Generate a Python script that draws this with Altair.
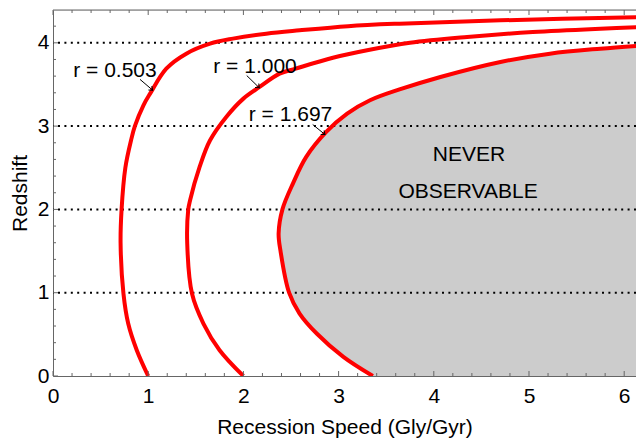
import altair as alt
import pandas as pd

FONT = "Liberation Sans"

# ---- data ----
curve_names = ["r = 0.503", "r = 1.000", "r = 1.697"]

c1_speed = [1.00, 0.88, 0.79, 0.74, 0.71, 0.72, 0.76, 0.82, 0.86, 0.95, 1.02, 1.19, 1.40, 1.65, 1.89, 2.24, 2.59, 3.10, 3.64, 4.70, 6.21]
c1_z     = [0.00, 0.31, 0.63, 0.99, 1.59, 1.99, 2.50, 2.83, 3.00, 3.25, 3.39, 3.69, 3.87, 3.99, 4.05, 4.11, 4.15, 4.20, 4.23, 4.27, 4.31]

c2_speed = [2.00, 1.75, 1.58, 1.46, 1.41, 1.42, 1.44, 1.54, 1.65, 1.82, 2.00, 2.17, 2.38, 2.55, 2.94, 3.30, 3.75, 4.35, 5.04, 5.75, 6.21]
c2_z     = [0.00, 0.31, 0.63, 0.99, 1.59, 1.99, 2.11, 2.51, 2.83, 3.11, 3.33, 3.47, 3.63, 3.69, 3.82, 3.91, 4.00, 4.07, 4.13, 4.17, 4.19]

c3_speed = [3.36, 3.05, 2.77, 2.59, 2.48, 2.39, 2.37, 2.41, 2.52, 2.66, 2.87, 3.09, 3.33, 3.64, 4.07, 4.70, 5.22, 5.75, 6.21]
c3_z     = [0.00, 0.23, 0.51, 0.75, 1.00, 1.50, 1.71, 2.00, 2.31, 2.63, 2.93, 3.15, 3.31, 3.44, 3.59, 3.77, 3.87, 3.93, 3.97]

grid_z = [1, 2, 3, 4]

label_text = ["r = 0.503", "r = 1.000", "r = 1.697", "NEVER", "OBSERVABLE"]
label_x = [0.651, 2.122, 2.495, 4.37, 4.36]
label_z = [3.592, 3.643, 3.067, 2.579, 2.139]

arrow_x0 = [0.914, 2.035, 2.728]
arrow_z0 = [3.561, 3.607, 3.019]
arrow_x1 = [1.047, 2.167, 2.857]
arrow_z1 = [3.431, 3.460, 2.899]
arrow_angle = [40, 44, 39]

x_major = [0, 1, 2, 3, 4, 5, 6]
x_minor = [0.2, 0.4, 0.6, 0.8, 1.2, 1.4, 1.6, 1.8, 2.2, 2.4, 2.6, 2.8, 3.2, 3.4, 3.6, 3.8,
           4.2, 4.4, 4.6, 4.8, 5.2, 5.4, 5.6, 5.8]
y_major = [0, 1, 2, 3, 4]
y_minor = [0.2, 0.4, 0.6, 0.8, 1.2, 1.4, 1.6, 1.8, 2.2, 2.4, 2.6, 2.8, 3.2, 3.4, 3.6, 3.8, 4.2]

X_MAX = 6.124
Y_MAX = 4.394
W, H = 583, 366
AXC = "#666666"

# ---- tables ----
rows = []
for name, xs_, zs_ in zip(curve_names, [c1_speed, c2_speed, c3_speed], [c1_z, c2_z, c3_z]):
    for i, (x, z) in enumerate(zip(xs_, zs_)):
        rows.append({"curve": name, "i": i, "speed": x, "z": z})
curves = pd.DataFrame(rows)
region = pd.DataFrame({"speed": c3_speed, "z": c3_z, "xmax": [6.3] * len(c3_speed)})
grid = pd.DataFrame({"z": grid_z})
labels = pd.DataFrame({"text": label_text, "speed": label_x, "z": label_z})
arrows = pd.DataFrame({"x0": arrow_x0, "z0": arrow_z0, "x1": arrow_x1, "z1": arrow_z1, "ang": arrow_angle})

xs = alt.Scale(domain=[0, X_MAX], nice=False, zero=False)
ys = alt.Scale(domain=[0, Y_MAX], nice=False, zero=False)

x_axis = alt.Axis(values=x_major, format="d", ticks=False, grid=False, domainColor=AXC,
                  labelFont=FONT, labelFontSize=21, labelColor="black", labelPadding=9,
                  labelFlush=False, labelOverlap=False,
                  title="Recession Speed (Gly/Gyr)", titleFont=FONT, titleFontSize=21,
                  titleFontWeight="normal", titleColor="black", titleY=57,
                  titleBaseline="alphabetic")
y_axis = alt.Axis(values=y_major, format="d", ticks=False, grid=False, domainColor=AXC,
                  labelFont=FONT, labelFontSize=21, labelColor="black", labelPadding=4,
                  labelFlush=False, labelOverlap=False,
                  title="Redshift", titleFont=FONT, titleFontSize=21,
                  titleFontWeight="normal", titleColor="black", titleX=-27, titleY=183,
                  titleAngle=270, titleBaseline="alphabetic")

def X(field):
    return alt.X(field, scale=xs, axis=x_axis)

def Y(field):
    return alt.Y(field, scale=ys, axis=y_axis)

area = alt.Chart(region).mark_area(color="#cccccc", orient="horizontal", clip=True,
                                   interpolate="catmull-rom").encode(
    x=X("speed:Q"), x2="xmax:Q", y=Y("z:Q"),
)

gridlines = alt.Chart(grid).mark_rule(color="black", strokeWidth=2, strokeDash=[2, 4.4]).encode(
    y=Y("z:Q")
)

lines = alt.Chart(curves).mark_line(color="#ff0000", strokeWidth=4, clip=True,
                                    interpolate="catmull-rom").encode(
    x=X("speed:Q"), y=Y("z:Q"), detail="curve:N", order="i:Q",
)

texts = alt.Chart(labels).mark_text(font=FONT, fontSize=21, color="black",
                                    align="center", baseline="alphabetic").encode(
    x=X("speed:Q"), y=Y("z:Q"), text="text:N",
)

arrow_lines = alt.Chart(arrows).mark_rule(color="black", strokeWidth=1).encode(
    x=X("x0:Q"), y=Y("z0:Q"), x2="x1:Q", y2="z1:Q",
)

arrow_heads = alt.Chart(arrows).mark_point(shape="M-1,-0.8L0,0L-1,0.8", filled=False,
                                           color="black", strokeWidth=1, size=45, opacity=1).encode(
    x=X("x1:Q"), y=Y("z1:Q"), angle=alt.Angle("ang:Q", scale=None),
)

def xticks(vals, y0, y1):
    return alt.Chart(pd.DataFrame({"t": vals})).mark_rule(color=AXC, strokeWidth=1).encode(
        x=X("t:Q"), y=alt.value(y0), y2=alt.value(y1))

def yticks(vals, length):
    return alt.Chart(pd.DataFrame({"t": vals})).mark_rule(color=AXC, strokeWidth=1).encode(
        y=Y("t:Q"), x=alt.value(0), x2=alt.value(length))

top_line = alt.Chart(pd.DataFrame({"t": [0]})).mark_rule(color=AXC, strokeWidth=1).encode(
    x=alt.value(0), x2=alt.value(W + 10), y=alt.value(0))

chart = alt.layer(
    area, gridlines, lines, texts, arrow_lines, arrow_heads,
    xticks(x_major, H, H - 5), xticks(x_minor, H, H - 3),
    xticks(x_major, 0, 5), xticks(x_minor, 0, 3),
    yticks(y_major, 5), yticks(y_minor, 3),
    top_line,
).properties(
    width=W, height=H,
    autosize=alt.AutoSizeParams(type="none"),
    padding={"left": 45, "top": 2, "right": 0, "bottom": 62},
).configure_view(stroke=None).configure(background="white")

chart.save("out.html", embed_options={"renderer": "svg", "actions": False})
